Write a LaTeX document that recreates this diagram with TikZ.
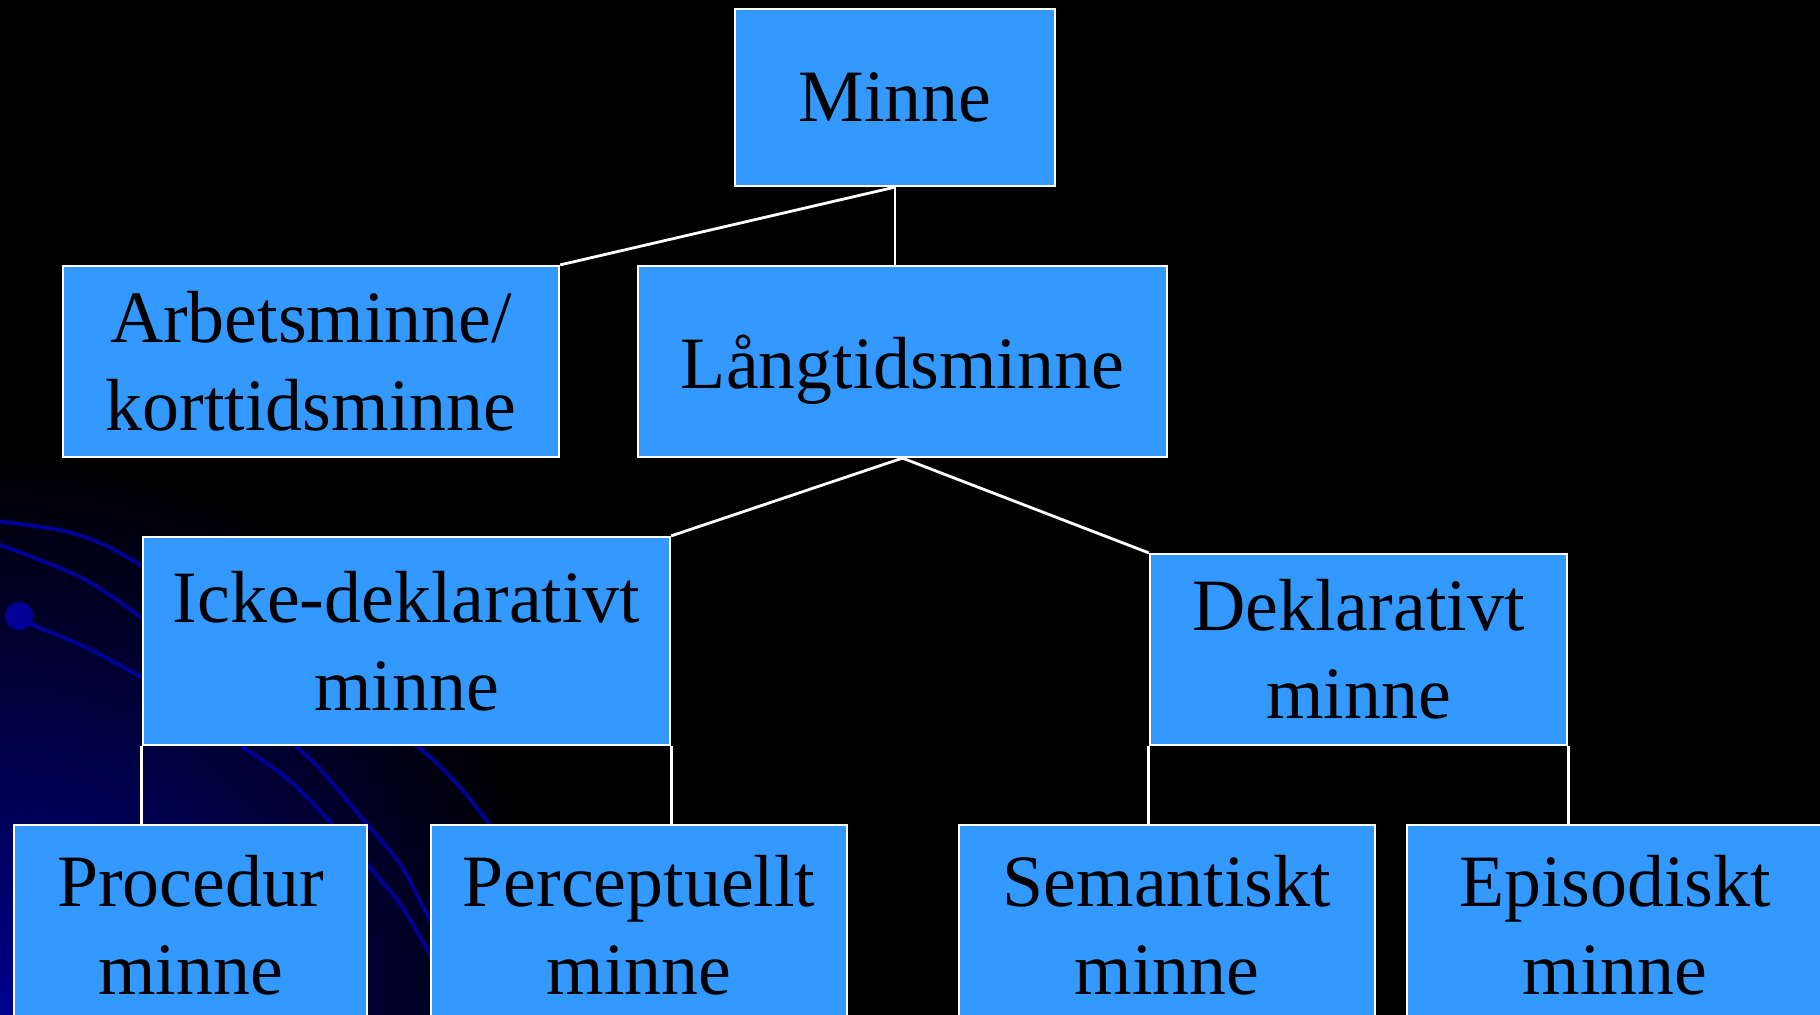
\documentclass[tikz,border=0pt]{standalone}
\usepackage{fontspec}
\setmainfont{Liberation Serif}
\usepackage{xcolor}
\usetikzlibrary{positioning}
\definecolor{boxblue}{RGB}{51,153,255}
\definecolor{trailblue}{RGB}{0,0,150}
\definecolor{glowblue}{RGB}{0,0,140}
\tikzset{
  memory/.style={draw=white, line width=0.6pt, fill=boxblue, inner sep=0pt, align=center, text=black, font=\fontsize{21}{25}\selectfont},
  link/.style={draw=white, line width=0.8pt},
  trail/.style={draw=trailblue, line width=1.1pt}
}

\begin{document}
\begin{tikzpicture}[x=0.01cm, y=-0.01cm]
    \useasboundingbox (0,0) rectangle (1820,1014);
    %Background
        \fill[black] (-20,-20) rectangle (1840,1040);
        \begin{scope}
            \clip (-20,-20) rectangle (1840,1040);
            \shade[inner color=glowblue, outer color=black] (0,1014) circle (5.6cm);
        \end{scope}
        \fill[trailblue] (19,616) circle (0.14cm);
        \draw[trail] plot[smooth] coordinates {(-5,521) (60,530) (100,543) (141,565) (220,610) (320,675) (418,747) (457,784) (490,825) (530,885)};
        \draw[trail] plot[smooth] coordinates {(-5,543) (80,577) (141,617) (220,675) (297,747) (320,769) (367,824) (400,864) (420,901) (428,917) (445,955)};
        \draw[trail] plot[smooth] coordinates {(19,616) (33,625) (85,647) (141,677) (190,708) (243,747) (290,781) (333,825) (367,864) (400,904) (428,951) (445,990)};
    %Boxes
        \node[memory, minimum width=3.2cm, minimum height=1.77cm] (minne) at (895,97.5) {Minne};
        \node[memory, minimum width=4.96cm, minimum height=1.91cm] (arbets) at (311,361.5) {Arbetsminne/\\korttidsminne};
        \node[memory, minimum width=5.29cm, minimum height=1.91cm, text depth=0pt] (lang) at (902.5,361.5) {Långtidsminne};
        \node[memory, minimum width=5.27cm, minimum height=2.08cm] (icke) at (406.5,641) {Icke-deklarativt\\minne};
        \node[memory, minimum width=4.17cm, minimum height=1.91cm] (dekl) at (1358.5,649.5) {Deklarativt\\minne};
        \node[memory, minimum width=3.53cm, minimum height=2cm] (proc) at (190.5,925) {Procedur\\minne};
        \node[memory, minimum width=4.16cm, minimum height=2cm] (perc) at (639,925) {Perceptuellt\\minne};
        \node[memory, minimum width=4.16cm, minimum height=2cm] (sem) at (1167,925) {Semantiskt\\minne};
        \node[memory, minimum width=4.16cm, minimum height=2cm] (epi) at (1615,925) {Episodiskt\\minne};
    %Links
        \draw[link] (minne.south) -- (arbets.north east);
        \draw[link] (minne.south) -- (minne.south |- lang.north);
        \draw[link] (lang.south) -- (icke.north east);
        \draw[link] (lang.south) -- (dekl.north west);
        \draw[link] (icke.south west) -- (icke.south west |- proc.north);
        \draw[link] (icke.south east) -- (icke.south east |- perc.north);
        \draw[link] (dekl.south west) -- (dekl.south west |- sem.north);
        \draw[link] (dekl.south east) -- (dekl.south east |- epi.north);
\end{tikzpicture}
\end{document}
